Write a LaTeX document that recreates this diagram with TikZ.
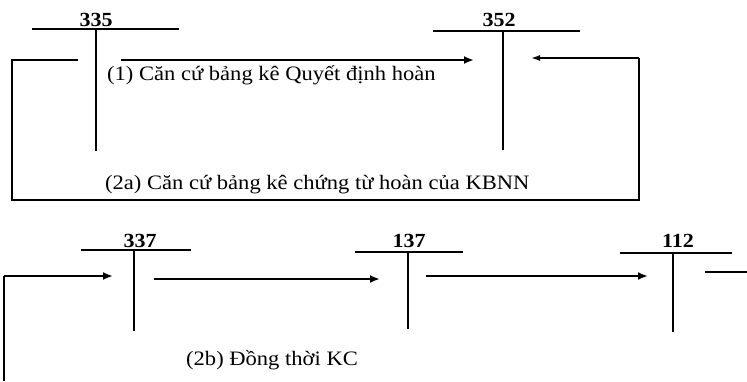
\documentclass[tikz,border=0pt]{standalone}
\usepackage{fontspec}
\setmainfont{Liberation Serif}[FakeStretch=1.1]
\usetikzlibrary{arrows.meta}
\tikzset{
  acct/.style={font=\fontsize{20}{21}\selectfont\bfseries, inner sep=0pt, anchor=base},
  note/.style={font=\fontsize{20.5}{22}\selectfont, inner sep=0pt, anchor=base west},
  tbar/.style={line width=2pt},
  flow/.style={line width=2pt, -{Latex[length=10pt,width=8pt]}},
  loop/.style={line width=1.5pt},
  loopend/.style={line width=1.5pt, -{Latex[length=9pt,width=6pt]}},
}
\begin{document}
\begin{tikzpicture}[x=1pt,y=-1pt]
\useasboundingbox (0,0) rectangle (747,381);

% T-account 335
\node[acct] (a335) at (96,26) {335};
\coordinate (h335l) at (32,29);  \coordinate (h335r) at (179,29);
\coordinate (v335t) at (96,29);  \coordinate (v335b) at (96,151);
\draw[tbar] (h335l) -- (h335r);
\draw[tbar] (v335t) -- (v335b);

% T-account 352
\node[acct] (a352) at (499,26) {352};
\coordinate (h352l) at (433,31); \coordinate (h352r) at (580,31);
\coordinate (v352t) at (503,31); \coordinate (v352b) at (503,150);
\draw[tbar] (h352l) -- (h352r);
\draw[tbar] (v352t) -- (v352b);

% (1) 335 -> 352
\coordinate (f1s) at (121,60); \coordinate (f1e) at (474,60);
\draw[flow] (f1s) -- (f1e);
\node[note] (t1) at (107,80) {(1) Căn cứ bảng kê Quyết định hoàn};

% (2a) loop from 335 round to 352
\coordinate (l1) at (78,60);  \coordinate (l2) at (12,60);
\coordinate (l3) at (12,200); \coordinate (l4) at (639,200);
\coordinate (l5) at (639,58); \coordinate (l6) at (531,58);
\draw[loop] (l1) -- (l2) -- (l3) -- (l4) -- (l5);
\draw[loopend] (l5) -- (l6);
\node[note] (t2a) at (105,189) {(2a) Căn cứ bảng kê chứng từ hoàn của KBNN};

% T-account 337
\node[acct] (a337) at (140,247) {337};
\coordinate (h337l) at (81,250);  \coordinate (h337r) at (191,250);
\coordinate (v337t) at (134,250); \coordinate (v337b) at (134,331);
\draw[tbar] (h337l) -- (h337r);
\draw[tbar] (v337t) -- (v337b);

% T-account 137
\node[acct] (a137) at (409,247) {137};
\coordinate (h137l) at (355,252); \coordinate (h137r) at (463,252);
\coordinate (v137t) at (408,252); \coordinate (v137b) at (408,329);
\draw[tbar] (h137l) -- (h137r);
\draw[tbar] (v137t) -- (v137b);

% T-account 112
\node[acct] (a112) at (678,247) {112};
\coordinate (h112l) at (620,253); \coordinate (h112r) at (732,253);
\coordinate (v112t) at (673,253); \coordinate (v112b) at (673,332);
\draw[tbar] (h112l) -- (h112r);
\draw[tbar] (v112t) -- (v112b);

% (2b) entry into 337, then 337 -> 137 -> 112
\coordinate (in1) at (4,381); \coordinate (in2) at (4,276); \coordinate (in3) at (113,276);
\draw[loop] (in1) -- (in2);
\draw[flow] (in2) -- (in3);
\coordinate (f2s) at (154,279); \coordinate (f2e) at (380,279);
\draw[flow] (f2s) -- (f2e);
\coordinate (f3s) at (426,276); \coordinate (f3e) at (648,276);
\draw[flow] (f3s) -- (f3e);
\coordinate (o1) at (705,272); \coordinate (o2) at (747,272);
\draw[tbar] (o1) -- (o2);
\node[note] (t2b) at (186,365) {(2b) Đồng thời KC};
\end{tikzpicture}
\end{document}
